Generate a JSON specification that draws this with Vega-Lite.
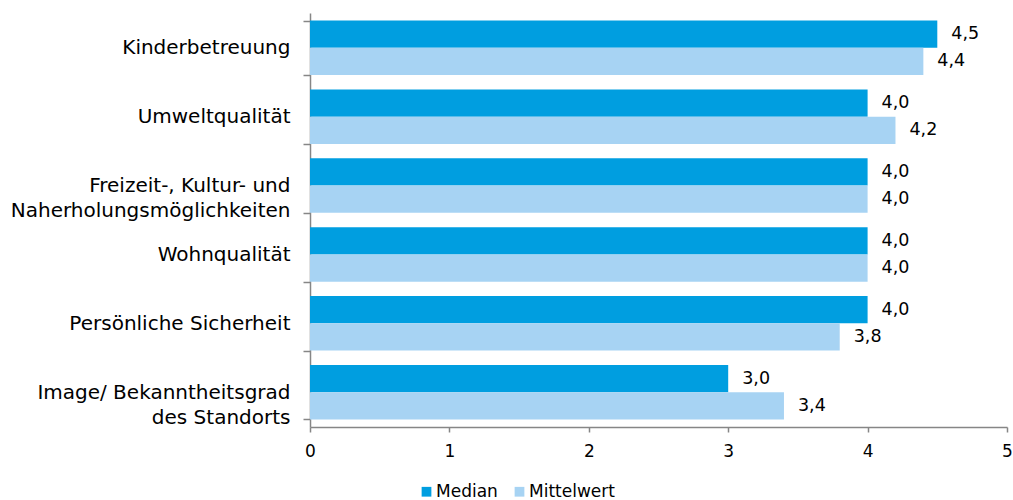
{
  "$schema": "https://vega.github.io/schema/vega-lite/v6.json",
  "width": 697,
  "height": 414,
  "autosize": {"type": "none"},
  "padding": {"left": 310, "top": 13, "right": 6, "bottom": 73},
  "config": {
    "font": "DejaVu Sans",
    "view": {"stroke": null}
  },
  "data": {
    "values": [
      {"kategorie": "Kinderbetreuung", "reihe": "Median", "wert": 4.5},
      {"kategorie": "Kinderbetreuung", "reihe": "Mittelwert", "wert": 4.4},
      {"kategorie": "Umweltqualität", "reihe": "Median", "wert": 4.0},
      {"kategorie": "Umweltqualität", "reihe": "Mittelwert", "wert": 4.2},
      {"kategorie": "Freizeit-, Kultur- und|Naherholungsmöglichkeiten", "reihe": "Median", "wert": 4.0},
      {"kategorie": "Freizeit-, Kultur- und|Naherholungsmöglichkeiten", "reihe": "Mittelwert", "wert": 4.0},
      {"kategorie": "Wohnqualität", "reihe": "Median", "wert": 4.0},
      {"kategorie": "Wohnqualität", "reihe": "Mittelwert", "wert": 4.0},
      {"kategorie": "Persönliche Sicherheit", "reihe": "Median", "wert": 4.0},
      {"kategorie": "Persönliche Sicherheit", "reihe": "Mittelwert", "wert": 3.8},
      {"kategorie": "Image/ Bekanntheitsgrad|des Standorts", "reihe": "Median", "wert": 3.0},
      {"kategorie": "Image/ Bekanntheitsgrad|des Standorts", "reihe": "Mittelwert", "wert": 3.4}
    ]
  },
  "transform": [
    {"calculate": "replace(format(datum.wert, '.1f'), '.', ',')", "as": "beschriftung"}
  ],
  "layer": [
    {
      "mark": {"type": "bar"},
      "encoding": {
        "y": {
          "field": "kategorie",
          "type": "nominal",
          "sort": null,
          "scale": {"paddingInner": 0.21, "paddingOuter": 0.11},
          "axis": {
            "title": null,
            "labelExpr": "split(datum.label, '|')",
            "labelFontSize": 20,
            "labelColor": "#000000",
            "labelLineHeight": 25,
            "labelLimit": 400,
            "labelPadding": 13,
            "domainColor": "#868686",
            "tickColor": "#868686",
            "tickBand": "extent",
            "tickSize": 7,
            "domainWidth": 1.5,
            "tickWidth": 1.5
          }
        },
        "yOffset": {"field": "reihe", "type": "nominal", "sort": ["Median", "Mittelwert"]},
        "x": {
          "field": "wert",
          "type": "quantitative",
          "scale": {"domain": [0, 5], "nice": false},
          "axis": {
            "title": null,
            "values": [0, 1, 2, 3, 4, 5],
            "format": "d",
            "grid": false,
            "labelFlush": false,
            "labelFontSize": 17,
            "labelColor": "#000000",
            "labelPadding": 11,
            "tickSize": 5,
            "domainColor": "#868686",
            "tickColor": "#868686",
            "domainWidth": 1.5,
            "tickWidth": 1.5
          }
        },
        "color": {
          "field": "reihe",
          "type": "nominal",
          "scale": {"domain": ["Median", "Mittelwert"], "range": ["#009EE0", "#A7D3F3"]},
          "legend": {
            "title": null,
            "orient": "none",
            "direction": "horizontal",
            "legendX": 108,
            "legendY": 470,
            "symbolType": "square",
            "symbolSize": 95,
            "labelFontSize": 17,
            "labelColor": "#000000",
            "labelOffset": 1,
            "columnPadding": 13
          }
        }
      }
    },
    {
      "mark": {"type": "text", "align": "left", "baseline": "middle", "dx": 14, "fontSize": 17.5, "color": "#000000"},
      "encoding": {
        "y": {"field": "kategorie", "type": "nominal", "sort": null},
        "yOffset": {"field": "reihe", "type": "nominal", "sort": ["Median", "Mittelwert"]},
        "x": {"field": "wert", "type": "quantitative"},
        "text": {"field": "beschriftung", "type": "nominal"}
      }
    }
  ]
}
